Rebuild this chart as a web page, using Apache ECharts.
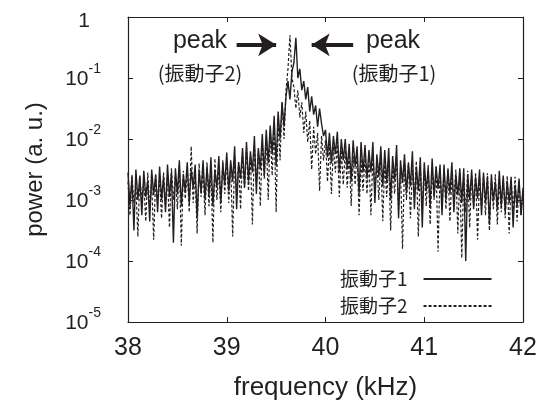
<!DOCTYPE html>
<html><head><meta charset="utf-8">
<script src="https://cdn.jsdelivr.net/npm/echarts@6/dist/echarts.min.js"></script>
<style>html,body{margin:0;padding:0;background:#fff}#c{width:549px;height:408px}</style>
</head><body><div id="c"></div>
<script>
// frequency sampling (kHz)
const freqStart = 38.0;
const freqStep = 0.02;
// log10(power), 振動子1 (solid)
const logPower1 = [
-2.55,-3.10,-2.62,-3.50,-2.50,-3.00,-2.60,-3.25,-2.52,-2.95,
-2.68,-3.35,-2.50,-2.92,-2.58,-3.20,-2.45,-3.00,-2.62,-3.20,
-2.42,-2.95,-2.55,-3.70,-2.48,-2.90,-2.35,-3.10,-2.60,-2.85,
-2.38,-3.05,-2.50,-2.80,-2.42,-3.30,-2.52,-2.88,-2.35,-3.00,
-2.45,-2.92,-2.30,-3.10,-2.52,-2.80,-2.28,-3.05,-2.40,-2.75,
-2.22,-2.85,-2.35,-2.70,-2.12,-3.15,-2.38,-2.65,-2.15,-2.80,
-2.05,-2.70,-2.20,-2.55,-1.95,-2.90,-2.15,-2.50,-1.92,-2.60,
-1.85,-2.40,-1.78,-2.25,-1.62,-2.45,-1.55,-2.00,-1.40,-1.80,
-1.30,-1.05,-1.35,-0.90,-0.75,-0.34,-1.00,-0.85,-1.20,-1.05,
-1.35,-1.15,-1.55,-1.30,-1.60,-1.45,-1.80,-1.50,-1.75,-1.95,
-1.85,-2.30,-1.90,-2.40,-1.95,-2.25,-1.88,-2.55,-2.00,-2.35,
-2.00,-2.50,-2.08,-2.70,-2.02,-2.45,-2.12,-2.90,-2.05,-2.55,
-2.10,-2.65,-2.18,-2.55,-2.05,-3.05,-2.25,-2.62,-2.12,-2.78,
-2.18,-2.72,-2.15,-3.00,-2.28,-2.68,-2.10,-3.30,-2.35,-2.72,
-2.25,-2.88,-2.40,-2.78,-2.20,-3.15,-2.45,-2.85,-2.30,-3.45,
-2.38,-2.85,-2.48,-3.10,-2.32,-2.95,-2.45,-2.82,-2.42,-3.25,
-2.42,-3.00,-2.50,-2.90,-2.38,-3.20,-2.58,-2.92,-2.48,-3.05,
-2.48,-4.00,-2.58,-3.00,-2.50,-3.15,-2.62,-2.98,-2.50,-3.25,
-2.55,-3.05,-2.62,-3.40,-2.58,-3.02,-2.70,-3.15,-2.52,-3.10,
-2.60,-3.20,-2.68,-3.05,-2.62,-3.45,-2.75,-3.10,-2.65,-3.25,
-2.80
];
// log10(power), 振動子2 (dashed)
const logPower2 = [
-2.70,-3.25,-2.58,-3.05,-2.78,-3.60,-2.62,-3.00,-2.72,-3.35,
-2.55,-3.15,-2.72,-3.65,-2.60,-3.02,-2.65,-3.30,-2.55,-3.10,
-2.62,-3.45,-2.48,-3.00,-2.58,-3.15,-2.42,-3.75,-2.52,-2.98,
-2.48,-3.20,-2.12,-3.05,-2.55,-3.55,-2.40,-2.95,-2.50,-3.25,
-2.38,-3.10,-2.52,-3.70,-2.32,-3.00,-2.48,-3.20,-2.35,-2.90,
-2.32,-3.05,-2.42,-3.60,-2.28,-2.90,-2.38,-3.15,-2.22,-2.80,
-2.15,-2.85,-2.28,-3.40,-2.10,-2.75,-2.20,-3.10,-2.05,-2.65,
-1.95,-3.00,-1.88,-2.60,-1.75,-3.20,-1.65,-2.35,-1.40,-2.00,
-1.20,-0.85,-0.30,-1.00,-1.15,-1.50,-1.20,-1.65,-1.40,-1.90,
-1.55,-2.05,-1.70,-2.50,-1.80,-2.25,-1.90,-2.85,-1.95,-2.35,
-2.02,-2.70,-2.08,-2.90,-2.12,-2.55,-2.05,-2.95,-2.18,-2.75,
-2.18,-2.80,-2.22,-3.10,-2.28,-2.75,-2.20,-3.25,-2.32,-2.85,
-2.28,-2.90,-2.32,-3.25,-2.25,-2.85,-2.38,-3.00,-2.30,-3.35,
-2.38,-2.95,-2.35,-3.50,-2.42,-2.90,-2.30,-3.15,-2.48,-3.80,
-2.42,-3.00,-2.38,-3.30,-2.50,-2.95,-2.36,-3.60,-2.46,-3.05,
-2.48,-3.10,-2.42,-3.40,-2.52,-3.00,-2.45,-3.85,-2.50,-3.10,
-2.52,-3.15,-2.48,-3.35,-2.58,-3.05,-2.50,-3.55,-2.55,-3.95,
-2.58,-3.20,-2.52,-3.45,-2.60,-3.10,-2.55,-3.65,-2.62,-3.15,
-2.60,-3.25,-2.56,-3.50,-2.66,-3.15,-2.58,-3.40,-2.68,-3.20,
-2.64,-3.30,-2.60,-3.55,-2.68,-3.20,-2.62,-3.35,-2.70,-3.25,
-2.85
];
const seriesNames = ['振動子1', '振動子2'];
const xTicks = [38, 39, 40, 41, 42];
const yMin = 1e-5, yMax = 1;
// annotation arrows (data coords): [fromFreq, headFreq, power]
const arrowLeft = [39.10, 39.50, 0.35];
const arrowRight = [40.28, 39.86, 0.35];
const peakLabels = ['peak', 'peak'];
const peakNotes = ['(振動子2)', '(振動子1)'];

const ink = '#231f20';
const latin = "'Liberation Sans', 'Noto Sans CJK JP', sans-serif";
const cjk = "'Noto Sans CJK JP', 'Liberation Sans', sans-serif";

function toPairs(logs) {
  return logs.map((v, i) => [+(freqStart + i * freqStep).toFixed(2), Math.pow(10, v)]);
}

const chart = echarts.init(document.getElementById('c'), null, {renderer: 'canvas'});
const axisCommon = {
  axisLine: {show: true, onZero: false, lineStyle: {color: ink, width: 1.2}},
  axisTick: {show: true, inside: true, length: 5, lineStyle: {color: ink, width: 1}},
  splitLine: {show: false},
  minorTick: {show: false}
};
chart.setOption({
  animation: false,
  backgroundColor: '#fff',
  grid: {left: 128, right: 26, top: 17, bottom: 86},
  xAxis: [
    Object.assign({}, axisCommon, {
      type: 'value', min: xTicks[0], max: xTicks[xTicks.length - 1], interval: 1,
      position: 'bottom',
      axisLabel: {show: true, margin: 14, color: ink, fontSize: 25, fontFamily: latin},
      name: 'frequency (kHz)', nameLocation: 'middle', nameGap: 53,
      nameTextStyle: {color: ink, fontSize: 26, fontFamily: latin}
    }),
    Object.assign({}, axisCommon, {
      type: 'value', min: xTicks[0], max: xTicks[xTicks.length - 1], interval: 1,
      position: 'top', axisLabel: {show: false}
    })
  ],
  yAxis: [
    Object.assign({}, axisCommon, {
      type: 'log', logBase: 10, min: yMin, max: yMax,
      position: 'left',
      axisLabel: {
        show: true, margin: 27, color: ink, fontFamily: latin,
        formatter: function (v) {
          const e = Math.round(Math.log10(v));
          if (e === 0) return '{o|1}';
          return '{a|10}{s|' + e + '}';
        },
        rich: {
          o: {fontSize: 21, padding: [8, 11, 0, 0], fontFamily: latin, color: ink},
          a: {fontSize: 21, verticalAlign: 'middle', padding: [3, 0, 0, 0], fontFamily: latin, color: ink},
          s: {fontSize: 14, verticalAlign: 'middle', padding: [0, 0, 18, 0], fontFamily: latin, color: ink}
        }
      },
      name: 'power (a. u.)', nameLocation: 'middle', nameGap: 81,
      nameTextStyle: {color: ink, fontSize: 24, fontFamily: latin}
    }),
    Object.assign({}, axisCommon, {
      type: 'log', logBase: 10, min: yMin, max: yMax,
      position: 'right', axisLabel: {show: false}
    })
  ],
  legend: {
    show: true, orient: 'vertical', left: 340, top: 269, align: 'right', padding: 0,
    itemWidth: 68, itemHeight: 14, itemGap: 7,
    data: seriesNames,
    itemStyle: {opacity: 0},
    textStyle: {color: ink, fontSize: 19, lineHeight: 20, fontFamily: cjk, padding: [0, 11, 0, 0]}
  },
  series: [
    {
      name: seriesNames[0], type: 'line', xAxisIndex: 0, yAxisIndex: 0,
      data: toPairs(logPower1), showSymbol: false, symbol: 'none',
      lineStyle: {color: ink, width: 1.4, type: 'solid'}, itemStyle: {color: ink},
      z: 3,
      markLine: {
        silent: true, symbol: ['none', 'arrow'], symbolSize: [17, 18],
        label: {show: false},
        lineStyle: {color: ink, width: 4, type: 'solid'},
        data: [
          [{coord: [arrowLeft[0], arrowLeft[2]]}, {coord: [arrowLeft[1], arrowLeft[2]]}],
          [{coord: [arrowRight[0], arrowRight[2]]}, {coord: [arrowRight[1], arrowRight[2]]}]
        ]
      }
    },
    {
      name: seriesNames[1], type: 'line', xAxisIndex: 0, yAxisIndex: 0,
      data: toPairs(logPower2), showSymbol: false, symbol: 'none',
      lineStyle: {color: ink, width: 1.2, type: [3, 2]}, itemStyle: {color: ink},
      z: 2
    }
  ],
  graphic: [
    {type: 'text', style: {text: peakLabels[0], fontSize: 25, fontFamily: latin, fill: ink, textAlign: 'center', textVerticalAlign: 'middle'}, x: 200, y: 41},
    {type: 'text', style: {text: peakLabels[1], fontSize: 25, fontFamily: latin, fill: ink, textAlign: 'center', textVerticalAlign: 'middle'}, x: 393, y: 41},
    {type: 'text', style: {text: peakNotes[0], fontSize: 20, fontFamily: cjk, fill: ink, textAlign: 'center', textVerticalAlign: 'middle'}, x: 200, y: 73},
    {type: 'text', style: {text: peakNotes[1], fontSize: 20, fontFamily: cjk, fill: ink, textAlign: 'center', textVerticalAlign: 'middle'}, x: 394, y: 73}
  ]
});
</script>
</body></html>
